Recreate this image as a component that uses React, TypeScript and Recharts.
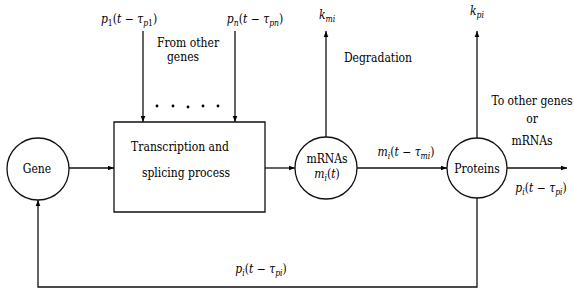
import React from 'react';
import { ScatterChart, Scatter, XAxis, YAxis, ReferenceArea } from 'recharts';

const W = 574;
const H = 294;

// circular nodes (centre x, centre y, radius) in diagram units
const nodes = [
  { x: 38, y: 169, r: 31 },
  { x: 326, y: 168, r: 31 },
  { x: 477, y: 168, r: 30 },
];

// rectangular process box
const box = { x1: 114, x2: 265, y1: 122, y2: 212 };

// arrows: polylines, last point carries arrow direction
const edges = [
  [{ x: 143, y: 31 }, { x: 143, y: 122, arrow: 'd' }],
  [{ x: 235, y: 31 }, { x: 235, y: 122, arrow: 'd' }],
  [{ x: 69, y: 168 }, { x: 114, y: 168, arrow: 'r' }],
  [{ x: 265, y: 168 }, { x: 295, y: 168, arrow: 'r' }],
  [{ x: 357, y: 168 }, { x: 447, y: 168, arrow: 'r' }],
  [{ x: 507, y: 168 }, { x: 567, y: 168, arrow: 'r' }],
  [{ x: 326, y: 137 }, { x: 326, y: 31, arrow: 'u' }],
  [{ x: 477, y: 138 }, { x: 477, y: 31, arrow: 'u' }],
  [{ x: 477, y: 198 }, { x: 477, y: 287 }, { x: 38, y: 287 }, { x: 38, y: 200, arrow: 'u' }],
];

const dots = [
  { x: 157, y: 106 },
  { x: 173, y: 106 },
  { x: 188, y: 107 },
  { x: 203, y: 106 },
  { x: 218, y: 106 },
];

const texts = [
  { x: 129, y: 18, label: 'p_{1}(t − τ_{p1})', math: true },
  { x: 255, y: 18, label: 'p_{n}(t − τ_{pn})', math: true },
  { x: 188, y: 42, label: 'From other', math: false },
  { x: 183, y: 56, label: 'genes', math: false },
  { x: 327, y: 14, label: 'k_{mi}', math: true },
  { x: 477, y: 10, label: 'k_{pi}', math: true },
  { x: 378, y: 57, label: 'Degradation', math: false },
  { x: 532, y: 100, label: 'To other genes', math: false },
  { x: 532, y: 118, label: 'or', math: false },
  { x: 532, y: 140, label: 'mRNAs', math: false },
  { x: 180, y: 146, label: 'Transcription and', math: false },
  { x: 186, y: 172, label: 'splicing process', math: false },
  { x: 37, y: 168, label: 'Gene', math: false },
  { x: 327, y: 158, label: 'mRNAs', math: false },
  { x: 327, y: 173, label: 'm_{i}(t)', math: true },
  { x: 406, y: 151, label: 'm_{i}(t − τ_{mi})', math: true },
  { x: 477, y: 168, label: 'Proteins', math: false },
  { x: 541, y: 187, label: 'p_{i}(t − τ_{pi})', math: true },
  { x: 261, y: 268, label: 'p_{i}(t − τ_{pi})', math: true },
];

const FONT = "'DejaVu Serif Condensed', 'DejaVu Serif'";
const STROKE = '#111';

function mathSpans(s: string) {
  const out: React.ReactNode[] = [];
  let shift = 0;
  let key = 0;
  const pushRun = (str: string, sub: boolean) => {
    const runs = str.match(/[A-Za-zτ]+|[^A-Za-zτ]+/g) || [];
    runs.forEach((r) => {
      const it = /[A-Za-zτ]/.test(r);
      const target = sub ? 3 : 0;
      const dy = target - shift;
      shift = target;
      out.push(
        <tspan
          key={key++}
          dy={dy}
          fontFamily={FONT}
          fontStretch="condensed"
          fontStyle={it ? 'italic' : 'normal'}
          fontSize={sub ? 8.5 : 12}
        >
          {r}
        </tspan>
      );
    });
  };
  const re = /_\{([^}]*)\}/g;
  let idx = 0;
  let m: RegExpExecArray | null;
  while ((m = re.exec(s))) {
    if (m.index > idx) pushRun(s.slice(idx, m.index), false);
    pushRun(m[1], true);
    idx = m.index + m[0].length;
  }
  if (idx < s.length) pushRun(s.slice(idx), false);
  return out;
}

const TextShape = (props: any) => {
  const { cx, cy, payload } = props;
  if (cx == null || cy == null) return <g />;
  return (
    <text
      x={cx}
      y={cy + 4.5}
      textAnchor="middle"
      fill="#000"
      fontFamily={FONT}
      fontStretch="condensed"
      fontSize={12}
    >
      {payload.math ? mathSpans(payload.label) : payload.label}
    </text>
  );
};

const NodeShape = (props: any) => {
  const { cx, cy, payload } = props;
  return <circle cx={cx} cy={cy} r={payload.r} fill="none" stroke={STROKE} strokeWidth={1.3} />;
};

const DotShape = (props: any) => {
  const { cx, cy } = props;
  return <circle cx={cx} cy={cy} r={1.4} fill="#000" />;
};

const ArrowShape = (props: any) => {
  const { cx, cy, payload } = props;
  if (!payload || !payload.arrow) return <g />;
  const L = 6;
  const w = 2.3;
  let pts = '';
  if (payload.arrow === 'r') pts = `${cx},${cy} ${cx - L},${cy - w} ${cx - L},${cy + w}`;
  if (payload.arrow === 'd') pts = `${cx},${cy} ${cx - w},${cy - L} ${cx + w},${cy - L}`;
  if (payload.arrow === 'u') pts = `${cx},${cy} ${cx - w},${cy + L} ${cx + w},${cy + L}`;
  return <polygon points={pts} fill="#000" />;
};

export default function App() {
  return (
    <div style={{ position: 'absolute', left: 0, top: 0, background: '#fff' }}>
      <ScatterChart width={W} height={H} margin={{ top: 0, right: 0, bottom: 0, left: 0 }}>
        <XAxis type="number" dataKey="x" domain={[0, W]} hide allowDataOverflow />
        <YAxis type="number" dataKey="y" domain={[0, H]} reversed hide allowDataOverflow />
        <ReferenceArea
          x1={box.x1}
          x2={box.x2}
          y1={box.y1}
          y2={box.y2}
          fill="none"
          fillOpacity={0}
          stroke={STROKE}
          strokeWidth={1.3}
          ifOverflow="visible"
        />
        {edges.map((e, i) => (
          <Scatter
            key={'e' + i}
            data={e}
            line={{ stroke: STROKE, strokeWidth: 1.3 }}
            lineType="joint"
            shape={ArrowShape}
            isAnimationActive={false}
          />
        ))}
        <Scatter data={nodes} shape={NodeShape} isAnimationActive={false} />
        <Scatter data={dots} shape={DotShape} isAnimationActive={false} />
        <Scatter data={texts} shape={TextShape} isAnimationActive={false} />
      </ScatterChart>
    </div>
  );
}
